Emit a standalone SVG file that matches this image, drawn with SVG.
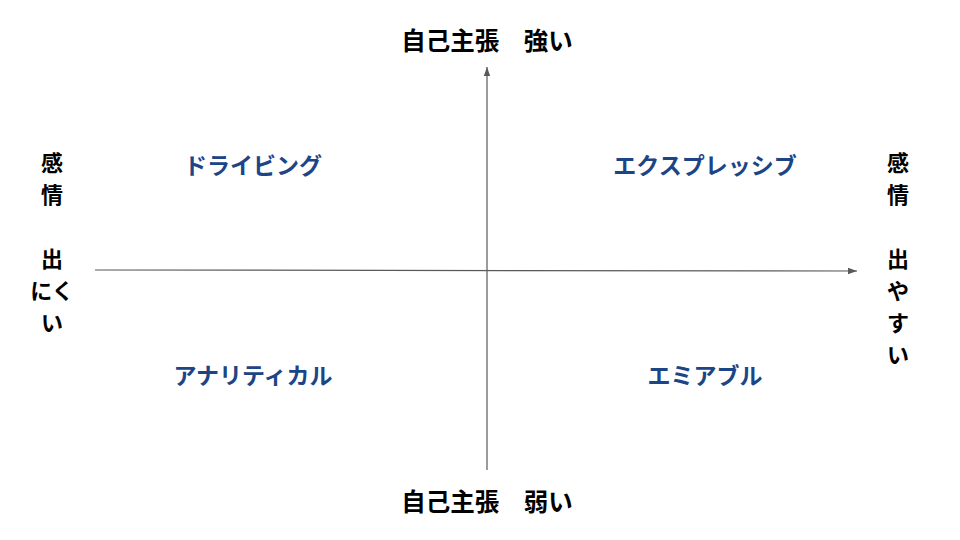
<svg xmlns="http://www.w3.org/2000/svg" width="960" height="540" viewBox="0 0 960 540">
<style>
.h{font-family:"Liberation Sans","Noto Sans CJK JP",sans-serif;font-weight:bold;font-size:24.5px;fill:#000;text-anchor:middle}
.s{font-family:"Liberation Sans","Noto Sans CJK JP",sans-serif;font-weight:bold;font-size:22px;fill:#000;text-anchor:middle}
.q{font-family:"Liberation Sans","Noto Sans CJK JP",sans-serif;font-weight:bold;font-size:23px;fill:#1c4587;text-anchor:middle}
.ax{stroke:#595959;stroke-width:1.2;fill:none}
</style>
<defs>
<marker id="ah" markerWidth="10" markerHeight="8" refX="9" refY="4" orient="auto" markerUnits="userSpaceOnUse">
<path d="M0,0.8 L9,4 L0,7.2 Z" fill="#595959"/>
</marker>
</defs>
<rect width="960" height="540" fill="#fff"/>
<g id="connectors">
<line class="ax" x1="487" y1="470" x2="487" y2="67" marker-end="url(#ah)"/>
<line class="ax" x1="95" y1="270" x2="857" y2="271" marker-end="url(#ah)"/>
</g>
<g id="top"><text class="h" x="487" y="50">自己主張　強い</text></g>
<g id="bottom"><text class="h" x="487" y="511">自己主張　弱い</text></g>
<g id="left">
<text class="s" x="52" y="171">感</text>
<text class="s" x="52" y="203">情</text>
<text class="s" x="52" y="267">出</text>
<text class="s" x="52" y="299">にく</text>
<text class="s" x="52" y="331">い</text>
</g>
<g id="right">
<text class="s" x="898" y="171">感</text>
<text class="s" x="898" y="203">情</text>
<text class="s" x="898" y="267">出</text>
<text class="s" x="898" y="299">や</text>
<text class="s" x="898" y="331">す</text>
<text class="s" x="898" y="363">い</text>
</g>
<g id="driving"><text class="q" x="253" y="174">ドライビング</text></g>
<g id="expressive"><text class="q" x="705" y="174">エクスプレッシブ</text></g>
<g id="analytical"><text class="q" x="253" y="384">アナリティカル</text></g>
<g id="amiable"><text class="q" x="705" y="384">エミアブル</text></g>
</svg>
